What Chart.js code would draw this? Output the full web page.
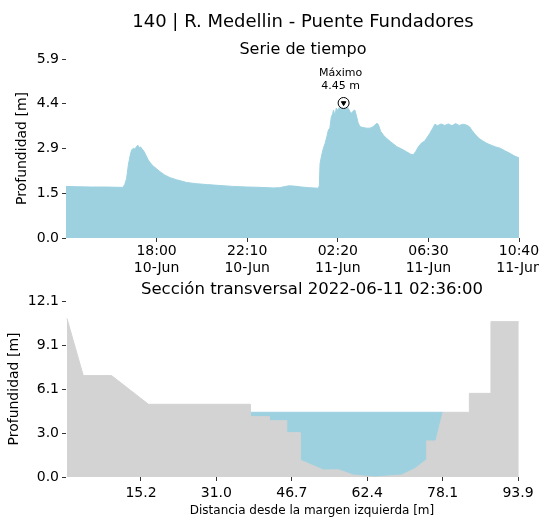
<!DOCTYPE html>
<html lang="es">
<head>
  <meta charset="UTF-8" />
  <title>140 | R. Medellin - Puente Fundadores</title>
  <script src="https://cdn.jsdelivr.net/npm/chart.js"></script>
  <style>
    body { margin: 0; background: #fff; font-family: "DejaVu Sans", sans-serif; }
    #wrap { position: relative; width: 539px; height: 518px; overflow: hidden; }
    .txt { position: absolute; white-space: nowrap; transform: translate(-50%, -50%); line-height: 1; color: #000; }
    #topBox { position: absolute; left: 0; top: 0; width: 539px; height: 280px; }
    #botBox { position: absolute; left: 0; top: 280px; width: 539px; height: 238px; }
  </style>
</head>
<body>
  <div id="wrap">
    <div id="topBox"><canvas id="serieChart"></canvas></div>
    <div id="botBox"><canvas id="seccionChart"></canvas></div>
    <div class="txt" style="left:303px;top:21px;font-size:18px;">140 | R. Medellin - Puente Fundadores</div>
    <div class="txt" style="left:303px;top:49px;font-size:16px;">Serie de tiempo</div>
    <div class="txt" style="left:312px;top:289px;font-size:16.5px;">Sección transversal 2022-06-11 02:36:00</div>
    <div class="txt" style="left:312px;top:510px;font-size:12px;">Distancia desde la margen izquierda [m]</div>
  </div>

  <script>
    // serie de tiempo (10-Jun 13:50 -> 11-Jun 10:40)
    const horas = [
      '13:50','14:20','15:00','15:40','16:20','16:27','16:32','16:37','16:42','16:47',
      '16:51','16:56','17:00','17:04','17:08','17:12','17:16','17:20','17:25','17:31',
      '17:37','17:45','17:52','18:00','18:10','18:22','18:37','18:55','19:23','19:50',
      '20:20','20:55','21:32','22:10','22:45','23:22','23:40','23:55','00:05','00:20',
      '00:40','01:00','01:26','01:29','01:31','01:35','01:40','01:45','01:50','01:54',
      '01:58','02:02','02:06','02:08','02:12','02:16','02:20','02:24','02:28','02:32',
      '02:36','02:40','02:44','02:49','02:54','02:58','03:02','03:07','03:11','03:16',
      '03:21','03:30','03:40','03:49','03:56','04:02','04:08','04:12','04:18','04:26',
      '04:35','04:45','05:03','05:15','05:30','05:40','05:48','05:55','06:02','06:10',
      '06:20','06:34','06:42','06:48','06:55','07:05','07:15','07:25','07:35','07:45',
      '07:55','08:05','08:16','08:24','08:30','08:40','08:50','09:00','09:11','09:25',
      '09:36','09:48','10:00','10:15','10:28','10:40'
    ];
    const profundidad = [
      1.70, 1.69, 1.68, 1.68, 1.67, 1.67, 1.76, 1.95, 2.40, 2.72,
      2.90, 2.96, 2.93, 3.00, 3.06, 2.98, 3.00, 2.93, 2.86, 2.72,
      2.57, 2.44, 2.36, 2.28, 2.18, 2.08, 1.99, 1.92, 1.83, 1.79,
      1.76, 1.73, 1.70, 1.68, 1.67, 1.65, 1.66, 1.70, 1.72, 1.71,
      1.68, 1.66, 1.64, 1.72, 2.45, 2.70, 2.95, 3.12, 3.35, 3.56,
      3.62, 3.98, 4.10, 4.22, 4.05, 4.28, 4.20, 4.30, 4.25, 4.36,
      4.45, 4.33, 4.38, 4.27, 4.16, 4.11, 4.18, 4.22, 4.05, 3.80,
      3.67, 3.64, 3.62, 3.62, 3.66, 3.72, 3.78, 3.74, 3.52, 3.39,
      3.28, 3.18, 3.01, 2.94, 2.84, 2.77, 2.74, 2.85, 3.00, 3.12,
      3.20, 3.45, 3.62, 3.75, 3.70, 3.76, 3.71, 3.76, 3.70, 3.77,
      3.71, 3.75, 3.72, 3.66, 3.55, 3.40, 3.28, 3.20, 3.12, 3.05,
      3.00, 2.96, 2.88, 2.79, 2.70, 2.64
    ];
    const xTickHoras = ['18:00', '22:10', '02:20', '06:30', '10:40'];
    const xTickDias = ['10-Jun', '10-Jun', '11-Jun', '11-Jun', '11-Jun'];
    const yTicksSerie = [0, 1.475, 2.95, 4.425, 5.9];
    const yLabelsSerie = ['0.0', '1.5', '2.9', '4.4', '5.9'];
    const maxHora = '02:36';
    const maxDia = 1;
    const maxValor = 4.45;
    const maxTexto = ['Máximo', '4.45 m'];

    // seccion transversal
    const terrenoX = [-0.2, 3.2, 9.1, 16.8, 38.0, 38.0, 42.0, 42.0, 45.6, 45.6, 48.4, 48.4,
                      53.3, 56.4, 59.5, 64.0, 69.6, 72.4, 74.8, 74.8, 76.7, 78.2, 83.7, 83.7,
                      88.2, 88.2, 94.0];
    const terrenoY = [10.9, 6.97, 6.97, 5.0, 5.0, 4.15, 4.15, 3.87, 3.87, 3.05, 3.05, 1.17,
                      0.48, 0.50, 0.14, 0.0, 0.14, 0.59, 1.21, 2.48, 2.48, 4.45, 4.45, 5.75,
                      5.75, 10.68, 10.68];
    const aguaX = [38.0, 78.2];
    const aguaY = [4.45, 4.45];
    const xTicksSeccion = [15.23, 30.95, 46.68, 62.4, 78.13, 93.85];
    const xLabelsSeccion = ['15.2', '31.0', '46.7', '62.4', '78.1', '93.9'];
    const yTicksSeccion = [0, 3.025, 6.05, 9.075, 12.1];
    const yLabelsSeccion = ['0.0', '3.0', '6.1', '9.1', '12.1'];

    const AZUL = '#9dd1e0';
    const GRIS = '#d3d3d3';
    const inicio = 13 * 60 + 50;

    Chart.defaults.font.family = '"DejaVu Sans", sans-serif';
    Chart.defaults.color = '#000';

    function aMinutos(lista) {
      let dia = 0, prev = -1;
      return lista.map(h => {
        const [hh, mm] = h.split(':').map(Number);
        const m = hh * 60 + mm;
        if (m < prev) dia++;
        prev = m;
        return m + dia * 1440 - inicio;
      });
    }

    const tSerie = aMinutos(horas);
    const tTicks = aMinutos(xTickHoras);
    const [mh, mm] = maxHora.split(':').map(Number);
    const tMax = mh * 60 + mm + maxDia * 1440 - inicio;

    const gridTicks = { display: true, drawOnChartArea: false, drawTicks: true, tickLength: 4, color: '#333', lineWidth: 1 };

    const textoMaximo = {
      id: 'textoMaximo',
      afterDatasetsDraw(chart) {
        const p = chart.getDatasetMeta(1).data[0];
        const ctx = chart.ctx;
        ctx.save();
        ctx.font = '11px "DejaVu Sans"';
        ctx.fillStyle = '#000';
        ctx.textAlign = 'center';
        ctx.textBaseline = 'middle';
        ctx.fillText(maxTexto[0], p.x - 3, p.y - 30);
        ctx.fillText(maxTexto[1], p.x - 3, p.y - 17);
        ctx.restore();
      }
    };

    new Chart(document.getElementById('serieChart'), {
      type: 'line',
      data: {
        datasets: [
          {
            type: 'scatter', data: [{ x: tMax, y: maxValor }], order: 0,
            pointStyle: 'triangle', rotation: 180, pointRadius: 2.6,
            backgroundColor: '#000', borderColor: '#000', borderWidth: 1
          },
          {
            type: 'scatter', data: [{ x: tMax, y: maxValor }], order: 1,
            pointStyle: 'circle', pointRadius: 5.5,
            backgroundColor: '#fff', borderColor: '#000', borderWidth: 1
          },
          {
            data: tSerie.map((t, i) => ({ x: t, y: profundidad[i] })), order: 2,
            fill: 'origin', backgroundColor: AZUL, borderColor: AZUL, borderWidth: 1,
            pointRadius: 0, tension: 0
          }
        ]
      },
      options: {
        responsive: true,
        maintainAspectRatio: false,
        animation: false,
        layout: { padding: { top: 59, right: 20, bottom: 0, left: 0 } },
        plugins: { legend: { display: false }, tooltip: { enabled: false } },
        scales: {
          x: {
            type: 'linear', min: 0, max: 1250,
            grid: gridTicks, border: { display: false },
            afterBuildTicks: s => { s.ticks = tTicks.map(v => ({ value: v })); },
            afterFit: s => { s.height = 42; s.paddingLeft = 0; s.paddingRight = 0; },
            ticks: {
              autoSkip: false, maxRotation: 0, padding: 1, font: { size: 14 },
              callback: (v, i) => [xTickHoras[i], xTickDias[i]]
            }
          },
          y: {
            min: 0, max: 5.9,
            grid: gridTicks, border: { display: false },
            afterBuildTicks: s => { s.ticks = yTicksSerie.map(v => ({ value: v })); },
            afterFit: s => { s.width = 66; s.paddingTop = 0; s.paddingBottom = 0; },
            ticks: { padding: 3, font: { size: 14 }, callback: (v, i) => yLabelsSerie[i] },
            title: { display: true, text: 'Profundidad [m]', font: { size: 14 }, padding: { top: 14, bottom: 0 } }
          }
        }
      },
      plugins: [textoMaximo]
    });

    new Chart(document.getElementById('seccionChart'), {
      type: 'line',
      data: {
        datasets: [
          {
            data: terrenoX.map((x, i) => ({ x: x, y: terrenoY[i] })), order: 0,
            fill: 'origin', backgroundColor: GRIS, borderColor: GRIS, borderWidth: 1,
            pointRadius: 0, tension: 0
          },
          {
            data: aguaX.map((x, i) => ({ x: x, y: aguaY[i] })), order: 1,
            fill: 'origin', backgroundColor: AZUL, borderColor: AZUL, borderWidth: 1,
            pointRadius: 0, tension: 0
          }
        ]
      },
      options: {
        responsive: true,
        maintainAspectRatio: false,
        animation: false,
        layout: { padding: { top: 21, right: 20, bottom: 0, left: 0 } },
        plugins: { legend: { display: false }, tooltip: { enabled: false } },
        scales: {
          x: {
            type: 'linear', min: -0.4, max: 94.05,
            grid: gridTicks, border: { display: false },
            afterBuildTicks: s => { s.ticks = xTicksSeccion.map(v => ({ value: v })); },
            afterFit: s => { s.height = 41; s.paddingLeft = 0; s.paddingRight = 0; },
            ticks: { autoSkip: false, maxRotation: 0, padding: 4, font: { size: 14 }, callback: (v, i) => xLabelsSeccion[i] }
          },
          y: {
            min: 0, max: 12.1,
            grid: gridTicks, border: { display: false },
            afterBuildTicks: s => { s.ticks = yTicksSeccion.map(v => ({ value: v })); },
            afterFit: s => { s.width = 66; s.paddingTop = 0; s.paddingBottom = 0; },
            ticks: { padding: 3, font: { size: 14 }, callback: (v, i) => yLabelsSeccion[i] },
            title: { display: true, text: 'Profundidad [m]', font: { size: 14 }, padding: { top: 6, bottom: 0 } }
          }
        }
      }
    });
  </script>
</body>
</html>
